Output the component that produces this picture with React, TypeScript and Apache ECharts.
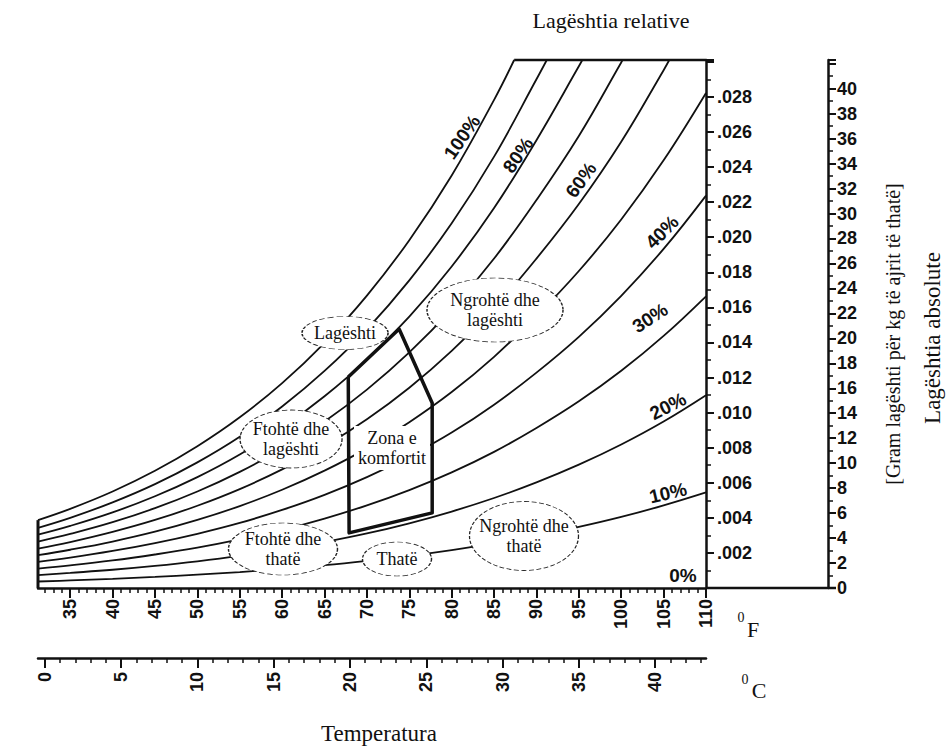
import React, { useEffect, useRef } from 'react';
import * as echarts from 'echarts';

// Dry-bulb temperature samples (°F) shared by every relative-humidity line
const tempF = [31.2, 35, 40, 45, 50, 55, 60, 65, 70, 75, 80, 85, 90, 95, 100, 105, 110];

// Humidity ratio (kg water per kg dry air) along each relative-humidity line
const rh100 = [0.00387, 0.00451, 0.0055, 0.00668, 0.00808, 0.00973, 0.01168, 0.01398, 0.01667, 0.01983, 0.02352, 0.02783];
const rh90 = [0.00343, 0.004, 0.00488, 0.00592, 0.00716, 0.00862, 0.01035, 0.01238, 0.01475, 0.01754, 0.02079, 0.02459, 0.029];
const rh80 = [0.00304, 0.00354, 0.00431, 0.00523, 0.00632, 0.00761, 0.00914, 0.01093, 0.01302, 0.01547, 0.01833, 0.02166, 0.02553, 0.02974];
const rh70 = [0.00264, 0.00308, 0.00375, 0.00455, 0.0055, 0.00662, 0.00794, 0.00949, 0.01131, 0.01343, 0.0159, 0.01878, 0.02212, 0.02577, 0.02996];
const rh60 = [0.00225, 0.00262, 0.0032, 0.00388, 0.00469, 0.00564, 0.00676, 0.00808, 0.00962, 0.01142, 0.01352, 0.01595, 0.01878, 0.02189, 0.02544, 0.02952];
const rh50 = [0.00187, 0.00218, 0.00265, 0.00321, 0.00388, 0.00467, 0.0056, 0.00669, 0.00796, 0.00945, 0.01117, 0.01318, 0.0155, 0.01807, 0.02101, 0.02438, 0.02822];
const rh40 = [0.00149, 0.00173, 0.00211, 0.00256, 0.00309, 0.00371, 0.00445, 0.00531, 0.00632, 0.0075, 0.00886, 0.01045, 0.01228, 0.01432, 0.01666, 0.01933, 0.02237];
const rh30 = [0.00111, 0.00129, 0.00157, 0.00191, 0.0023, 0.00277, 0.00331, 0.00396, 0.00471, 0.00558, 0.00659, 0.00776, 0.00912, 0.01064, 0.01238, 0.01437, 0.01663];
const rh20 = [0.00073, 0.00086, 0.00104, 0.00126, 0.00152, 0.00183, 0.0022, 0.00262, 0.00311, 0.00369, 0.00436, 0.00513, 0.00602, 0.00703, 0.00818, 0.00949, 0.01099];
const rh10 = [0.00037, 0.00043, 0.00052, 0.00063, 0.00076, 0.00091, 0.00109, 0.0013, 0.00155, 0.00183, 0.00216, 0.00254, 0.00298, 0.00348, 0.00405, 0.00471, 0.00545];

const rhCurves = [rh100, rh90, rh80, rh70, rh60, rh50, rh40, rh30, rh20, rh10];
// Temperature where a line leaves the chart through its top edge (null: it reaches 110 °F)
const topExitF = [87.37, 91.22, 95.41, 100.16, 105.67, null, null, null, null, null];

// Axis extents
const fMin = 31.2;
const fMax = 110;
const wMax = 0.0301;
const gramsMax = 42.3;
const cMin = (fMin - 32) / 1.8;
const cMax = (fMax - 32) / 1.8;

// Tick values
const fMajorTicks = [35, 40, 45, 50, 55, 60, 65, 70, 75, 80, 85, 90, 95, 100, 105, 110];
const fMinorTicks = Array.from({ length: 79 }, (_, i) => 32 + i);
const cMajorTicks = [0, 5, 10, 15, 20, 25, 30, 35, 40];
const cMinorTicks = Array.from({ length: 44 }, (_, i) => i);

// Relative-humidity labels: text, anchor (°F, kg/kg), angle
const rhLabelText = ['100%', '80%', '60%', '40%', '30%', '20%', '10%', '0%'];
const rhLabelF = [81.22, 87.82, 95.26, 104.81, 103.4, 105.52, 105.52, 107.29];
const rhLabelW = [0.02571, 0.02468, 0.02326, 0.02029, 0.01539, 0.01037, 0.00542, 0.00074];
const rhLabelAngle = [55, 55, 54, 45, 33, 27, 13, 0];

// Comfort zone outline (°F, kg/kg)
const comfortF = [67.8, 73.8, 77.7, 77.7, 67.9, 67.8];
const comfortW = [0.01203, 0.01476, 0.01055, 0.00428, 0.00314, 0.01203];

// Climate regions
const regionNames = ['Lagështi', 'Ftohtë dhe\nlagështi', 'Ftohtë dhe\nthatë', 'Thatë', 'Ngrohtë dhe\nthatë', 'Ngrohtë dhe\nlagështi'];
const regionF = [67.42, 61.05, 60.1, 73.55, 88.53, 85.11];
const regionW = [0.014537, 0.008494, 0.002223, 0.001653, 0.002964, 0.015848];
const regionEllipse = [[86, 33], [102, 58], [109, 52], [69, 34], [109, 69], [136, 64]];

const comfortLabel = 'Zona e\nkomfortit';
const comfortLabelF = 72.96;
const comfortLabelW = 0.00798;

const INK = '#111111';
const SANS = '"Liberation Sans", Arial, sans-serif';
const SERIF = '"Liberation Serif", "Times New Roman", serif';

const GRID = { left: 38, right: 241, top: 60, bottom: 159 };

function curveData(values: number[], exitF: number | null) {
  const pts: number[][] = values.map((w, i) => [tempF[i], w]);
  if (exitF !== null) pts.push([exitF, wMax]);
  return pts;
}

export default function App() {
  const ref = useRef<HTMLDivElement>(null);

  useEffect(() => {
    if (!ref.current) return;
    const chart = echarts.init(ref.current, null, { renderer: 'svg' });

    const tickLabel = { fontFamily: SANS, fontWeight: 'bold' as const, fontSize: 18, color: INK };

    const curveSeries = rhCurves.map((vals, i) => ({
      type: 'line',
      data: curveData(vals, topExitF[i]),
      xAxisIndex: 0,
      yAxisIndex: 0,
      showSymbol: false,
      symbol: 'none',
      smooth: 0.4,
      lineStyle: { color: INK, width: 1.8 },
      z: 2,
      silent: true,
    }));

    const frameSeries = [
      {
        type: 'line',
        data: [[fMin, 0], [fMin, rh100[0]]],
        symbol: 'none',
        lineStyle: { color: INK, width: 3 },
        clip: false,
        z: 3,
        silent: true,
      },
      {
        type: 'line',
        data: [[topExitF[0], wMax], [fMax, wMax]],
        symbol: 'none',
        lineStyle: { color: INK, width: 2.5 },
        clip: false,
        z: 3,
        silent: true,
      },
    ];

    const comfortSeries = {
      type: 'line',
      data: comfortF.map((f, i) => [f, comfortW[i]]),
      symbol: 'none',
      lineStyle: { color: INK, width: 3.5, join: 'round' },
      z: 4,
      silent: true,
    };

    const comfortTextSeries = {
      type: 'scatter',
      data: [[comfortLabelF, comfortLabelW]],
      symbol: 'rect',
      symbolSize: [76, 44],
      itemStyle: { color: '#ffffff', opacity: 1 },
      label: {
        show: true,
        position: 'inside',
        formatter: comfortLabel,
        fontFamily: SERIF,
        fontSize: 18,
        lineHeight: 20,
        color: INK,
      },
      z: 5,
      silent: true,
    };

    const regionSeries = {
      type: 'scatter',
      data: regionNames.map((name, i) => ({
        value: [regionF[i], regionW[i]],
        symbolSize: regionEllipse[i],
        label: { formatter: name },
      })),
      symbol: 'circle',
      itemStyle: { color: '#ffffff', opacity: 1, borderColor: '#222222', borderWidth: 1, borderType: [4, 2] },
      label: {
        show: true,
        position: 'inside',
        fontFamily: SERIF,
        fontSize: 18,
        lineHeight: 20,
        color: INK,
      },
      z: 6,
      silent: true,
    };

    const rhLabelSeries = {
      type: 'scatter',
      data: rhLabelText.map((t, i) => ({
        value: [rhLabelF[i], rhLabelW[i]],
        label: { formatter: t, rotate: rhLabelAngle[i] },
      })),
      symbol: 'circle',
      symbolSize: 1,
      itemStyle: { color: 'rgba(0,0,0,0)', opacity: 1 },
      label: {
        show: true,
        position: 'inside',
        fontFamily: SANS,
        fontWeight: 'bold',
        fontSize: 19,
        color: INK,
      },
      z: 7,
      silent: true,
    };

    const xBase = {
      type: 'value',
      gridIndex: 0,
      position: 'bottom',
      splitLine: { show: false },
    };

    const yRightX = 947 - GRID.right;
    const yBottom = 747 - GRID.bottom;
    const gramsOffset = 122;

    chart.setOption({
      animation: false,
      backgroundColor: '#ffffff',
      grid: { ...GRID, containLabel: false },
      xAxis: [
        {
          ...xBase,
          min: fMin,
          max: fMax,
          axisLine: { show: true, onZero: false, lineStyle: { color: INK, width: 2.5 } },
          axisTick: { show: true, customValues: fMinorTicks, length: 5, lineStyle: { color: INK, width: 1.5 } },
          axisLabel: { show: false },
        },
        {
          ...xBase,
          min: fMin,
          max: fMax,
          axisLine: { show: false, onZero: false },
          axisTick: { show: true, customValues: fMajorTicks, length: 10, lineStyle: { color: INK, width: 2 } },
          axisLabel: { show: true, customValues: fMajorTicks, rotate: 90, margin: 11, ...tickLabel },
        },
        {
          ...xBase,
          min: cMin,
          max: cMax,
          offset: 70,
          axisLine: { show: true, onZero: false, lineStyle: { color: INK, width: 2.5 } },
          axisTick: { show: true, customValues: cMinorTicks, length: 5, lineStyle: { color: INK, width: 1.5 } },
          axisLabel: { show: false },
        },
        {
          ...xBase,
          min: cMin,
          max: cMax,
          offset: 70,
          axisLine: { show: false, onZero: false },
          axisTick: { show: true, customValues: cMajorTicks, length: 10, lineStyle: { color: INK, width: 2 } },
          axisLabel: { show: true, customValues: cMajorTicks, rotate: 90, margin: 14, ...tickLabel },
        },
      ],
      yAxis: [
        {
          type: 'value',
          position: 'right',
          min: 0,
          max: wMax,
          interval: 0.002,
          splitLine: { show: false },
          axisLine: { show: true, onZero: false, lineStyle: { color: INK, width: 2.5 } },
          axisTick: { show: true, length: 8, lineStyle: { color: INK, width: 2 } },
          minorTick: { show: true, splitNumber: 2, length: 5, lineStyle: { color: INK, width: 1.5 } },
          axisLabel: {
            margin: 11,
            ...tickLabel,
            formatter: (v: number) => (v < 0.0005 || v > 0.0295 ? '' : v.toFixed(3).replace(/^0/, '')),
          },
        },
        {
          type: 'value',
          position: 'right',
          offset: gramsOffset,
          min: 0,
          max: gramsMax,
          interval: 2,
          splitLine: { show: false },
          axisLine: { show: true, onZero: false, lineStyle: { color: INK, width: 2.5 } },
          axisTick: { show: true, length: 8, lineStyle: { color: INK, width: 2 } },
          minorTick: { show: true, splitNumber: 2, length: 5, lineStyle: { color: INK, width: 1.5 } },
          axisLabel: {
            margin: 9,
            ...tickLabel,
            showMaxLabel: false,
            formatter: (v: number) => (v > 40.5 ? '' : String(v)),
          },
        },
      ],
      graphic: [
        {
          type: 'line',
          shape: { x1: yRightX, y1: yBottom, x2: yRightX + gramsOffset + 8, y2: yBottom },
          style: { stroke: INK, lineWidth: 2.5 },
          z: 10,
        },
        {
          type: 'text',
          x: 611,
          y: 20,
          style: { text: 'Lagështia relative', font: `22px ${SERIF}`, fill: INK, align: 'center', verticalAlign: 'middle' },
        },
        {
          type: 'text',
          x: 379,
          y: 733,
          style: { text: 'Temperatura', font: `23px ${SERIF}`, fill: INK, align: 'center', verticalAlign: 'middle' },
        },
        {
          type: 'text',
          x: 893,
          y: 334,
          rotation: Math.PI / 2,
          style: { text: '[Gram lagështi për kg të ajrit të thatë]', font: `20px ${SERIF}`, fill: INK, align: 'center', verticalAlign: 'middle' },
        },
        {
          type: 'text',
          x: 932,
          y: 338,
          rotation: Math.PI / 2,
          style: { text: 'Lagështia absolute', font: `23px ${SERIF}`, fill: INK, align: 'center', verticalAlign: 'middle' },
        },
        {
          type: 'text',
          x: 741,
          y: 617,
          style: { text: '0', font: `14px ${SERIF}`, fill: INK, align: 'center', verticalAlign: 'middle' },
        },
        {
          type: 'text',
          x: 753,
          y: 629,
          style: { text: 'F', font: `22px ${SERIF}`, fill: INK, align: 'center', verticalAlign: 'middle' },
        },
        {
          type: 'text',
          x: 745,
          y: 679,
          style: { text: '0', font: `14px ${SERIF}`, fill: INK, align: 'center', verticalAlign: 'middle' },
        },
        {
          type: 'text',
          x: 759,
          y: 690,
          style: { text: 'C', font: `22px ${SERIF}`, fill: INK, align: 'center', verticalAlign: 'middle' },
        },
      ],
      series: [
        ...curveSeries,
        ...frameSeries,
        comfortSeries,
        comfortTextSeries,
        regionSeries,
        rhLabelSeries,
      ],
    });

    return () => chart.dispose();
  }, []);

  return (
    <div
      ref={ref}
      style={{ position: 'fixed', left: 0, top: 0, width: 947, height: 747, background: '#ffffff' }}
    />
  );
}
